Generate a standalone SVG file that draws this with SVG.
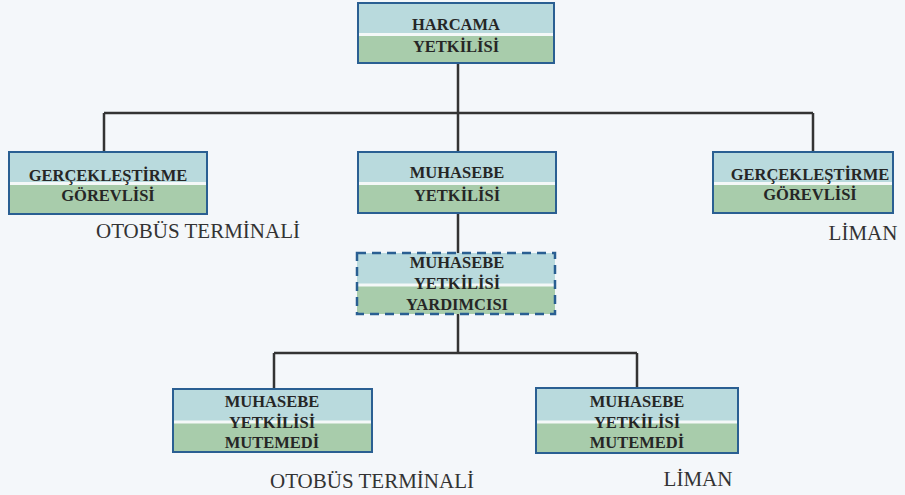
<svg xmlns="http://www.w3.org/2000/svg" width="905" height="495" viewBox="0 0 905 495">
<style>
.bg{fill:#f4f7fa}
.top{fill:#b9dadd}
.bot{fill:#a8ccab}
.sep{stroke:#f4f8f8;stroke-width:3}
.frame{fill:none;stroke:#2a5f92;stroke-width:2}
.dash{fill:none;stroke:#2a5f92;stroke-width:2.5;stroke-dasharray:9 6}
.t{font-family:'Liberation Serif',serif;font-weight:bold;font-size:16.5px;fill:#262626;text-anchor:middle}
.lab{font-family:'Liberation Serif',serif;font-size:21px;fill:#333;text-anchor:middle}
.c{fill:none;stroke:#333;stroke-width:2.5}
</style>
<rect class="bg" x="0" y="0" width="905" height="495"/>
<g id="connectors">
<path class="c" d="M458 63 V113 M104 113 H813 M104 113 V152 M458 113 V152 M813 113 V152"/>
<path class="c" d="M458 213 V253"/>
<path class="c" d="M458 314 V353 M274 353 H637 M274 353 V389 M637 353 V389"/>
</g>
<g id="harcama">
<rect class="top" x="358" y="3" width="196" height="31"/>
<rect class="bot" x="358" y="34" width="196" height="29"/>
<line class="sep" x1="358" y1="34.5" x2="554" y2="34.5"/>
<rect class="frame" x="358" y="3" width="196" height="60"/>
<text class="t" x="456" y="30">HARCAMA</text>
<text class="t" x="456" y="52">YETKİLİSİ</text>
</g>
<g id="gercek1">
<rect class="top" x="9" y="152" width="198" height="31"/>
<rect class="bot" x="9" y="183" width="198" height="31"/>
<line class="sep" x1="9" y1="183.5" x2="207" y2="183.5"/>
<rect class="frame" x="9" y="152" width="198" height="62"/>
<text class="t" x="108" y="181">GERÇEKLEŞTİRME</text>
<text class="t" x="108" y="201">GÖREVLİSİ</text>
</g>
<text class="lab" x="198" y="238">OTOBÜS TERMİNALİ</text>
<g id="muhasebe">
<rect class="top" x="358" y="152" width="198" height="31"/>
<rect class="bot" x="358" y="183" width="198" height="30"/>
<line class="sep" x1="358" y1="183.5" x2="556" y2="183.5"/>
<rect class="frame" x="358" y="152" width="198" height="61"/>
<text class="t" x="457" y="178">MUHASEBE</text>
<text class="t" x="457" y="201">YETKİLİSİ</text>
</g>
<g id="gercek2">
<rect class="top" x="713" y="152" width="180" height="31"/>
<rect class="bot" x="713" y="183" width="180" height="30"/>
<line class="sep" x1="713" y1="183.5" x2="893" y2="183.5"/>
<rect class="frame" x="713" y="152" width="180" height="61"/>
<text class="t" x="810" y="180">GERÇEKLEŞTİRME</text>
<text class="t" x="810" y="200">GÖREVLİSİ</text>
</g>
<text class="lab" x="863" y="240">LİMAN</text>
<g id="yardimci">
<rect class="top" x="357" y="253" width="198" height="31"/>
<rect class="bot" x="357" y="284" width="198" height="30"/>
<line class="sep" x1="357" y1="285" x2="555" y2="285"/>
<rect class="dash" x="357" y="253" width="198" height="61"/>
<text class="t" x="457" y="268">MUHASEBE</text>
<text class="t" x="457" y="289">YETKİLİSİ</text>
<text class="t" x="457" y="310">YARDIMCISI</text>
</g>
<g id="mutemet1">
<rect class="top" x="173" y="389" width="199" height="32"/>
<rect class="bot" x="173" y="421" width="199" height="31"/>
<line class="sep" x1="173" y1="422" x2="372" y2="422"/>
<rect class="frame" x="173" y="389" width="199" height="63"/>
<text class="t" x="272" y="407">MUHASEBE</text>
<text class="t" x="272" y="428">YETKİLİSİ</text>
<text class="t" x="272" y="448">MUTEMEDİ</text>
</g>
<text class="lab" x="372" y="488">OTOBÜS TERMİNALİ</text>
<g id="mutemet2">
<rect class="top" x="536" y="388" width="202" height="33"/>
<rect class="bot" x="536" y="421" width="202" height="32"/>
<line class="sep" x1="536" y1="422" x2="738" y2="422"/>
<rect class="frame" x="536" y="388" width="202" height="65"/>
<text class="t" x="637" y="407">MUHASEBE</text>
<text class="t" x="637" y="428">YETKİLİSİ</text>
<text class="t" x="637" y="448">MUTEMEDİ</text>
</g>
<text class="lab" x="698" y="486">LİMAN</text>
</svg>
